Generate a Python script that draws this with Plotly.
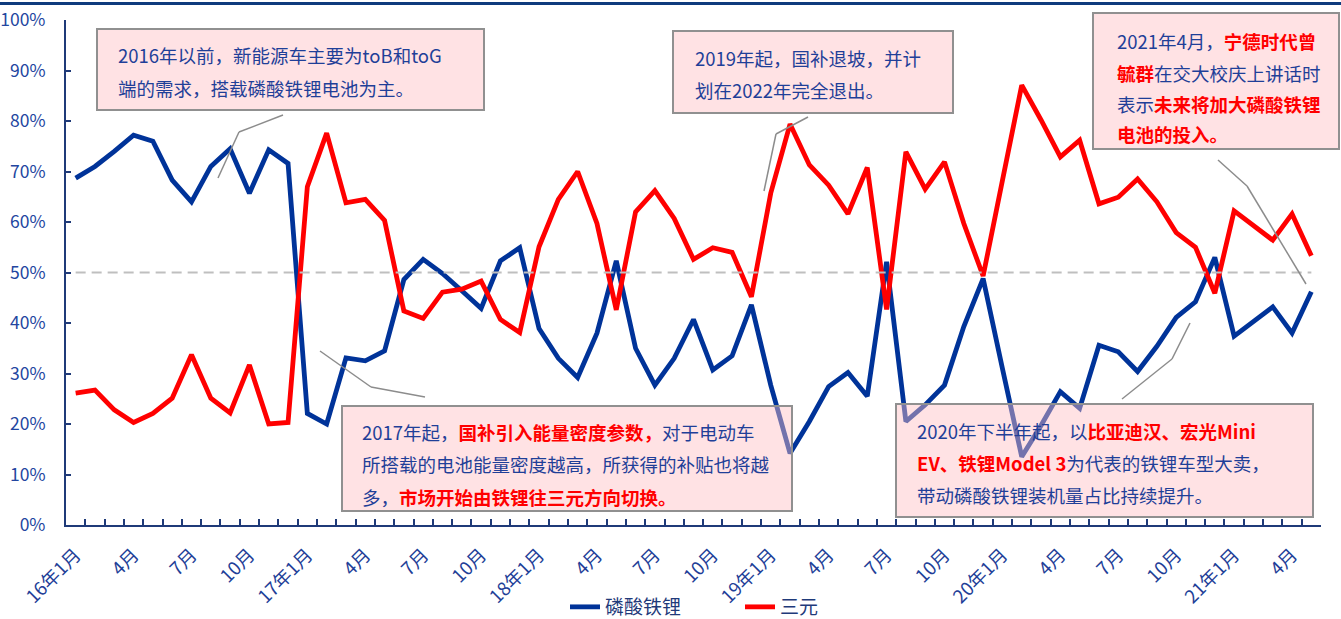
import plotly.graph_objects as go

# ---- data -------------------------------------------------------------
years = [2016, 2017, 2018, 2019, 2020, 2021]
months = [f"{y}-{m:02d}" for y in years for m in range(1, 13)][:65]

tick_text = []
for mth in months:
    y, m = int(mth[:4]), int(mth[5:])
    if m == 1:
        tick_text.append(f"{y % 100}年1月")
    elif m in (4, 7, 10):
        tick_text.append(f"{m}月")
    else:
        tick_text.append("")

# share of installed capacity, %
lfp_share = [68.7, 71.0, 74.0, 77.2, 76.0, 68.3, 64.0, 71.0, 74.5, 65.7, 74.3, 71.6,
             22.1, 20.0, 33.1, 32.5, 34.5, 48.6, 52.6, 49.8, 46.4, 42.9, 52.3, 54.9,
             38.9, 33.0, 29.2, 38.0, 52.3, 35.0, 27.7, 33.0, 40.7, 30.7, 33.5, 43.6,
             27.7, 14.2, 20.5, 27.4, 30.2, 25.5, 52.1, 20.5, 23.8, 27.7, 39.3, 48.8,
             31.0, 13.5, 19.7, 26.4, 23.1, 35.6, 34.3, 30.4, 35.4, 41.1, 44.2, 53.0,
             37.4, 40.3, 43.2, 38.0, 46.2]

ncm_share = [26.1, 26.7, 22.8, 20.3, 22.1, 25.1, 33.7, 25.1, 22.2, 31.7, 20.0, 20.3,
             67.0, 77.6, 63.8, 64.5, 60.3, 42.4, 40.9, 46.1, 46.7, 48.3, 40.7, 38.1,
             55.1, 64.5, 70.0, 59.7, 42.6, 62.0, 66.2, 60.7, 52.6, 54.9, 54.0, 45.2,
             65.7, 79.4, 71.3, 67.3, 61.6, 70.8, 42.7, 73.9, 66.5, 71.9, 59.7, 49.3,
             68.2, 87.1, 80.2, 72.9, 76.2, 63.6, 64.9, 68.5, 64.0, 57.9, 55.0, 45.9,
             62.2, 59.3, 56.4, 61.6, 53.3]

y_ticks = list(range(0, 101, 10))
y_tick_text = [f"{v}%" for v in y_ticks]

# ---- page geometry ---------------------------------------------------
W, H = 1341, 619
L, R, T, B = 66, 20, 20, 94
PW, PH = W - L - R, H - T - B


def px(x):
    return (x - L) / PW


def py(y):
    return (H - B - y) / PH


BLUE = "#003399"
RED = "#FF0000"
TXT_BLUE = "#1F3F98"
AXIS = "#1F3A78"
FONT = "Noto Sans CJK SC"

fig = go.Figure()
fig.add_trace(go.Scatter(x=months, y=lfp_share, name="磷酸铁锂", mode="lines",
                         line=dict(color=BLUE, width=4.8)))
fig.add_trace(go.Scatter(x=months, y=ncm_share, name="三元", mode="lines",
                         line=dict(color=RED, width=4.8)))

shapes = []
# 50% reference line
shapes.append(dict(type="line", xref="x", yref="y", x0=months[0], x1=months[-1],
                   y0=50, y1=50, layer="above",
                   line=dict(color="#BFBFBF", width=2, dash="10px,6px")))
# top rule
shapes.append(dict(type="line", xref="paper", yref="paper", x0=px(0), x1=px(W),
                   y0=py(3.5), y1=py(3.5), line=dict(color="#0E3B7D", width=3)))

# callout boxes (left, top, right, bottom in page pixels)
boxes = [
    (97, 29, 484, 110),
    (342, 406, 792, 511),
    (673, 31, 953, 113),
    (896, 404, 1313, 517),
    (1093, 13, 1339, 149),
]
for x0, y0, x1, y1 in boxes:
    shapes.append(dict(type="rect", xref="paper", yref="paper",
                       x0=px(x0), x1=px(x1), y0=py(y1), y1=py(y0), layer="above",
                       fillcolor="rgba(255,190,195,0.45)",
                       line=dict(color="#909090", width=2)))

# leader lines
leaders = [
    [(218, 178), (239, 132), (283, 115)],
    [(320, 351), (371, 387), (425, 397)],
    [(764, 191), (776, 134), (808, 117)],
    [(1122, 399), (1172, 359), (1190, 323)],
    [(1218, 160), (1247, 186), (1306, 284)],
]
for pts in leaders:
    for (ax, ay), (bx, by) in zip(pts[:-1], pts[1:]):
        shapes.append(dict(type="line", xref="paper", yref="paper",
                           x0=px(ax), y0=py(ay), x1=px(bx), y1=py(by), layer="above",
                           line=dict(color="#8C8C8C", width=1.5)))


def red(s):
    return f'<span style="color:{RED}"><b>{s}</b></span>'


notes = [
    (116, 55, "2016年以前，新能源车主要为toB和toG"),
    (116, 88, "端的需求，搭载磷酸铁锂电池为主。"),
    (360, 432, "2017年起，" + red("国补引入能量密度参数，") + "对于电动车"),
    (360, 464, "所搭载的电池能量密度越高，所获得的补贴也将越"),
    (360, 497, "多，" + red("市场开始由铁锂往三元方向切换。")),
    (693, 58, "2019年起，国补退坡，并计"),
    (693, 90, "划在2022年完全退出。"),
    (915, 431, "2020年下半年起，以" + red("比亚迪汉、宏光Mini")),
    (915, 463, red("EV、铁锂Model 3") + "为代表的铁锂车型大卖，"),
    (915, 495, "带动磷酸铁锂装机量占比持续提升。"),
    (1115, 41, "2021年4月，" + red("宁德时代曾")),
    (1115, 73, red("毓群") + "在交大校庆上讲话时"),
    (1115, 104, "表示" + red("未来将加大磷酸铁锂")),
    (1115, 134, red("电池的投入。")),
]
annotations = [
    dict(xref="paper", yref="paper", x=px(x), y=py(y), text=t, showarrow=False,
         xanchor="left", yanchor="middle", align="left",
         font=dict(family=FONT, size=18.5, color=TXT_BLUE))
    for x, y, t in notes
]

fig.update_layout(
    width=W, height=H, autosize=False,
    margin=dict(l=L, r=R, t=T, b=B, pad=0),
    paper_bgcolor="white", plot_bgcolor="white",
    font=dict(family=FONT, color=TXT_BLUE),
    shapes=shapes, annotations=annotations,
    showlegend=True,
    legend=dict(orientation="h", x=px(565), xanchor="left",
                yref="container", y=1 - 607 / H, yanchor="middle",
                entrywidth=130, entrywidthmode="pixels",
                font=dict(family=FONT, size=19, color="#1F3A7A"),
                bgcolor="rgba(0,0,0,0)"),
    xaxis=dict(type="category", range=[-0.5, len(months) - 0.5], automargin=False,
               tickmode="array", tickvals=months, ticktext=tick_text,
               tickson="boundaries", ticks="inside", ticklen=6, tickwidth=1.5,
               tickcolor=AXIS, showline=True, linecolor=AXIS, linewidth=2,
               showgrid=False, zeroline=False, tickangle=-45,
               ticklabelstandoff=10,
               tickfont=dict(family=FONT, size=18.5, color=TXT_BLUE)),
    yaxis=dict(range=[0, 100], tickmode="array", tickvals=y_ticks, automargin=False,
               ticktext=y_tick_text, ticks="inside", ticklen=5, tickwidth=1.5,
               tickcolor=AXIS, showline=True, linecolor=AXIS, linewidth=2,
               showgrid=False, zeroline=False, ticklabelstandoff=15,
               tickfont=dict(family=FONT, size=17.5, color="#2346A0")),
)

fig.write_html("out.html")
